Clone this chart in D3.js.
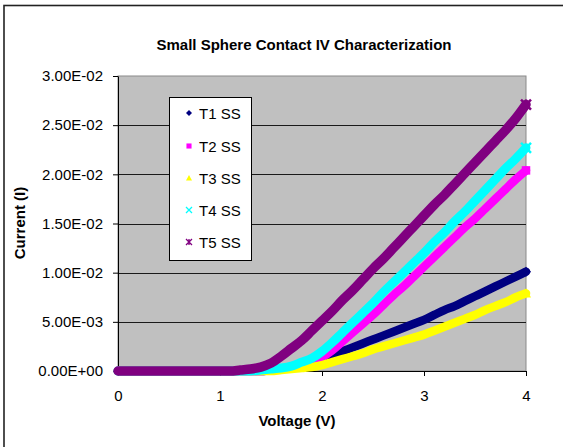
<!DOCTYPE html>
<html>
<head>
<meta charset="utf-8">
<script src="https://cdn.jsdelivr.net/npm/d3@7"></script>
<style>
  html, body { margin: 0; padding: 0; background: #fff; }
  svg { display: block; font-family: Arial, "Liberation Sans", sans-serif; }
</style>
</head>
<body>
<svg id="chart" width="563" height="447"></svg>
<script>
const chartTitle = "Small Sphere Contact IV Characterization";
const xTitle = "Voltage (V)";
const yTitle = "Current (I)";
const seriesNames = ["T1 SS", "T2 SS", "T3 SS", "T4 SS", "T5 SS"];
const seriesColors = ["#000080", "#FF00FF", "#FFFF00", "#00FFFF", "#800080"];
const seriesMarkers = ["diamond", "square", "triangle", "cross", "star"];

const voltage = [0.0,0.1,0.2,0.3,0.4,0.5,0.6,0.7,0.8,0.9,1.0,1.1,1.2,1.3,1.4,1.5,1.6,1.7,1.8,1.9,2.0,
                 2.1,2.2,2.3,2.4,2.5,2.6,2.7,2.8,2.9,3.0,3.1,3.2,3.3,3.4,3.5,3.6,3.7,3.8,3.9,4.0];

const t1 = [0,0,0,0,0,0,0,0,0,0,0,0,0,0,0,0.0001,0.0002,0.0004,0.0006,0.0009,0.0012,
            0.0016,0.0020,0.0024,0.0028,0.0032,0.0036,0.0040,0.0044,0.0048,0.0052,0.0057,0.0062,0.0066,0.0071,0.0076,0.0081,0.0086,0.0091,0.0096,0.0101];
const t2 = [0,0,0,0,0,0,0,0,0,0,0,0,0,0,0,0.0001,0.0002,0.0004,0.0007,0.0010,0.0014,
            0.0021,0.0030,0.0039,0.0048,0.0057,0.0067,0.0077,0.0086,0.0096,0.0106,0.0116,0.0126,0.0136,0.0146,0.0155,0.0165,0.0175,0.0185,0.0195,0.0204];
const t3 = [0,0,0,0,0,0,0,0,0,0,0,0,0,0,0,0,0.0001,0.0002,0.0003,0.0004,0.0006,
            0.0009,0.0012,0.0015,0.0018,0.0022,0.0025,0.0028,0.0031,0.0034,0.0037,0.0041,0.0045,0.0049,0.0053,0.0057,0.0062,0.0066,0.0070,0.0075,0.0079];
const t4 = [0,0,0,0,0,0,0,0,0,0,0,0,0,0,0.0001,0.0002,0.0003,0.0005,0.0009,0.0013,0.0020,
            0.0029,0.0039,0.0049,0.0059,0.0069,0.0080,0.0090,0.0100,0.0110,0.0120,0.0131,0.0141,0.0152,0.0162,0.0173,0.0184,0.0195,0.0206,0.0216,0.0227];
const t5 = [0,0,0,0,0,0,0,0,0,0,0,0,0.0001,0.0002,0.0004,0.0008,0.0015,0.0023,0.0031,0.0041,0.0051,
            0.0061,0.0072,0.0082,0.0093,0.0104,0.0114,0.0125,0.0136,0.0147,0.0158,0.0169,0.0179,0.0190,0.0201,0.0212,0.0223,0.0234,0.0245,0.0257,0.0271];

const xTicks = [0, 1, 2, 3, 4];
const xTickLabels = ["0", "1", "2", "3", "4"];
const yTicks = [0, 0.005, 0.01, 0.015, 0.02, 0.025, 0.03];
const yTickLabels = ["0.00E+00", "5.00E-03", "1.00E-02", "1.50E-02", "2.00E-02", "2.50E-02", "3.00E-02"];

const seriesValues = [t1, t2, t3, t4, t5];
const series = seriesNames.map((name, i) => ({
  name, color: seriesColors[i], marker: seriesMarkers[i],
  points: voltage.map((v, j) => ({ v, c: seriesValues[i][j] }))
}));

const svg = d3.select("#chart");
const plot = { left: 118, right: 526, top: 76, bottom: 371 };

const x = d3.scaleLinear().domain([0, 4]).range([plot.left, plot.right]);
const y = d3.scaleLinear().domain([0, 0.03]).range([plot.bottom, plot.top]);

// outer chart border
svg.append("rect").attr("x", 4).attr("y", 5.5).attr("width", 700).attr("height", 600)
  .attr("fill", "none").attr("stroke", "#222").attr("stroke-width", 1.6);

// plot area
svg.append("rect").attr("x", plot.left).attr("y", plot.top)
  .attr("width", plot.right - plot.left).attr("height", plot.bottom - plot.top)
  .attr("fill", "#C0C0C0").attr("stroke", "#8a8a8a").attr("stroke-width", 1);

// gridlines
svg.append("g").selectAll("line").data(yTicks.filter(d => d > 0 && d < 0.03)).join("line")
  .attr("x1", plot.left).attr("x2", plot.right)
  .attr("y1", d => Math.round(y(d)) + 0.5).attr("y2", d => Math.round(y(d)) + 0.5)
  .attr("stroke", "#1a1a1a").attr("stroke-width", 1);

// axes
const yAxis = svg.append("g").attr("transform", `translate(${plot.left},0)`)
  .call(d3.axisLeft(y).tickValues(yTicks).tickSize(5).tickSizeOuter(0).tickPadding(10)
    .tickFormat((d, i) => yTickLabels[i]));
const xAxis = svg.append("g").attr("transform", `translate(0,${plot.bottom})`)
  .call(d3.axisBottom(x).tickValues(xTicks).tickSize(5).tickSizeOuter(0).tickPadding(14)
    .tickFormat((d, i) => xTickLabels[i]));
[xAxis, yAxis].forEach(a => {
  a.select(".domain").attr("stroke", "#000");
  a.selectAll(".tick line").attr("stroke", "#000");
  a.selectAll(".tick text").attr("fill", "#000").style("font-size", "15px")
    .style("font-family", "Arial, 'Liberation Sans', sans-serif");
});

// series lines (dense marker bands)
const line = d3.line().x(d => x(d.v)).y(d => y(d.c)).curve(d3.curveMonotoneX);
const widths = [8.5, 8.5, 8.5, 9, 9.5];
const lines = svg.append("g");
series.forEach((s, i) => {
  lines.append("path").datum(s.points)
    .attr("d", line).attr("fill", "none")
    .attr("stroke", s.color).attr("stroke-width", widths[i])
    .attr("stroke-linejoin", "round").attr("stroke-linecap", "round");
});

// marker shapes
function markerPath(type, size) {
  const h = size / 2;
  switch (type) {
    case "diamond": return `M0,${-h}L${h},0L0,${h}L${-h},0Z`;
    case "square": return `M${-h * 0.85},${-h * 0.85}H${h * 0.85}V${h * 0.85}H${-h * 0.85}Z`;
    case "triangle": return `M0,${-h}L${h},${h * 0.85}L${-h},${h * 0.85}Z`;
    case "cross": return `M${-h},${-h}L${h},${h}M${-h},${h}L${h},${-h}`;
    case "star": return `M${-h},${-h}L${h},${h}M${-h},${h}L${h},${-h}M0,${-h}L0,${h}`;
  }
}

// end markers
series.forEach(s => {
  const last = s.points[s.points.length - 1];
  const filled = s.marker !== "cross" && s.marker !== "star";
  svg.append("path").attr("d", markerPath(s.marker, 10))
    .attr("transform", `translate(${x(last.v)},${y(last.c)})`)
    .attr("fill", filled ? s.color : "none").attr("stroke", s.color)
    .attr("stroke-width", filled ? 0 : 2.5);
});

// legend
const legend = svg.append("g");
legend.append("rect").attr("x", 169.5).attr("y", 97.5).attr("width", 82).attr("height", 163)
  .attr("fill", "#fff").attr("stroke", "#000").attr("stroke-width", 1);
const legendY = [113, 146, 178, 210, 242];
series.forEach((s, i) => {
  const filled = s.marker !== "cross" && s.marker !== "star";
  legend.append("path").attr("d", markerPath(s.marker, 6))
    .attr("transform", `translate(189,${legendY[i]})`)
    .attr("fill", filled ? s.color : "none").attr("stroke", s.color)
    .attr("stroke-width", filled ? 0 : 1.3);
  legend.append("text").attr("x", 199).attr("y", legendY[i])
    .attr("dominant-baseline", "central").style("font-size", "15px").attr("fill", "#000")
    .text(s.name);
});

// titles
svg.append("text").attr("x", 304).attr("y", 50).attr("text-anchor", "middle")
  .style("font-size", "15px").style("font-weight", "bold").text(chartTitle);
svg.append("text").attr("x", 297).attr("y", 426).attr("text-anchor", "middle")
  .style("font-size", "15px").style("font-weight", "bold").text(xTitle);
svg.append("text").attr("transform", "translate(25,223) rotate(-90)").attr("text-anchor", "middle")
  .style("font-size", "15px").style("font-weight", "bold").text(yTitle);
</script>
</body>
</html>
